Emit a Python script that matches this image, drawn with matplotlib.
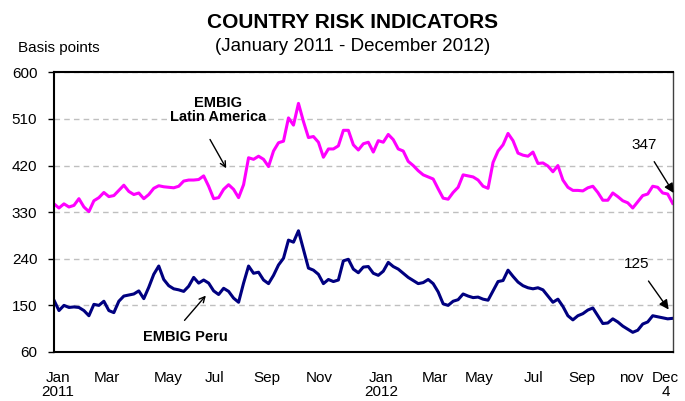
import numpy as np
import matplotlib
matplotlib.use("Agg")
import matplotlib.pyplot as plt

plt.rcParams['font.family'] = ['Liberation Sans', 'DejaVu Sans']

###############################################################
# Data (spreads in basis points, sampled along the period)
###############################################################
latam = [346, 338, 346, 340, 343, 356, 340, 331, 352, 358,
         368, 360, 362, 372, 382, 370, 364, 367, 356, 364,
         376, 381, 379, 378, 377, 380, 390, 392, 392, 393,
         400, 380, 356, 358, 374, 383, 374, 358, 383, 435,
         432, 438, 432, 418, 448, 464, 467, 512, 498, 540,
         505, 474, 476, 465, 436, 452, 452, 458, 488, 488,
         460, 450, 462, 465, 446, 468, 465, 480, 470, 452,
         448, 428, 420, 410, 402, 398, 394, 375, 357, 355,
         368, 378, 402, 400, 398, 392, 380, 376, 426, 448,
         460, 482, 468, 444, 440, 438, 446, 424, 425, 419,
         408, 420, 392, 378, 372, 372, 371, 377, 380, 368,
         353, 353, 367, 360, 352, 348, 338, 350, 362, 365,
         380, 378, 367, 365, 347]

peru = [160, 140, 150, 146, 147, 146, 140, 130, 152, 150,
        158, 140, 136, 158, 168, 170, 172, 178, 163, 185,
        210, 226, 200, 188, 182, 180, 177, 187, 204, 193,
        199, 193, 178, 171, 183, 177, 164, 156, 193, 226,
        212, 214, 199, 192, 208, 228, 241, 276, 272, 294,
        258, 222, 218, 210, 192, 200, 196, 199, 236, 239,
        220, 213, 224, 225, 212, 208, 216, 233, 225, 220,
        212, 204, 198, 192, 194, 200, 192, 176, 153, 150,
        158, 161, 172, 168, 165, 166, 162, 160, 178, 196,
        198, 218, 206, 195, 188, 184, 182, 184, 180, 168,
        156, 162, 148, 130, 122, 130, 134, 141, 145, 130,
        115, 116, 124, 118, 110, 104, 98, 102, 114, 118,
        130, 128, 126, 124, 125]

tick_labels = ['Jan\n2011', 'Mar', 'May', 'Jul', 'Sep', 'Nov', 'Jan\n2012',
               'Mar', 'May', 'Jul', 'Sep', 'nov', 'Dec\n4']
tick_pos = [0.8, 10.6, 22.8, 32.2, 42.6, 53.2, 65.6,
            76.4, 85.2, 96.2, 105.8, 115.8, 122.6]
y_ticks = [60, 150, 240, 330, 420, 510, 600]

x = np.arange(len(latam))

###############################################################
# Figure
###############################################################
fig = plt.figure(figsize=(6.85, 4.01), dpi=100)
ax = fig.add_axes([0.0788, 0.1222, 0.9032, 0.6975])

ax.plot(x, latam, color='#FF00FF', lw=2.2, solid_joinstyle='round')
ax.plot(x, peru, color='#000080', lw=2.2, solid_joinstyle='round')

ax.set_xlim(0, len(latam) - 1)
ax.set_ylim(60, 600)
ax.set_yticks(y_ticks)
ax.set_xticks(tick_pos, tick_labels)
ax.tick_params(axis='x', length=0, pad=14, labelsize=11)
ax.tick_params(axis='y', length=4, width=1, pad=8, labelsize=11)
for lbl in ax.get_xticklabels():
    lbl.set_linespacing(1.0)

ax.yaxis.grid(True, color='#BFBFBF', linestyle=(0, (4, 3)), lw=1)
ax.set_axisbelow(True)
for side in ['left', 'bottom', 'top']:
    ax.spines[side].set_color('black')
    ax.spines[side].set_linewidth(1.5)
ax.spines['right'].set_color('#404040')
ax.spines['right'].set_linewidth(1)

# Titles
fig.text(0.515, 0.945, 'COUNTRY RISK INDICATORS', ha='center', va='center',
         fontsize=15, fontweight='bold')
fig.text(0.515, 0.883, '(January 2011 - December 2012)', ha='center',
         va='center', fontsize=13.5)
fig.text(0.026, 0.881, 'Basis points', ha='left', va='center', fontsize=11)

# Series labels
ax.text(32.8, 527, 'EMBIG\nLatin America', ha='center', va='center',
        fontsize=10.5, fontweight='bold', linespacing=1.05)
ax.annotate('', xy=(34.8, 410), xytext=(31.0, 475),
            arrowprops=dict(arrowstyle='->', color='black', lw=1))
ax.text(26.4, 88, 'EMBIG Peru', ha='center', va='center',
        fontsize=10.5, fontweight='bold')
ax.annotate('', xy=(30.8, 173), xytext=(25.8, 117),
            arrowprops=dict(arrowstyle='->', color='black', lw=1))

# Last values
ax.annotate(str(latam[-1]), xy=(124.2, 367), xytext=(118.2, 460),
            ha='center', va='center', fontsize=11, annotation_clip=False,
            arrowprops=dict(arrowstyle='-|>', color='black', lw=1,
                            mutation_scale=14, shrinkA=6, shrinkB=0))
ax.annotate(str(peru[-1]), xy=(123.2, 142), xytext=(116.8, 229),
            ha='center', va='center', fontsize=11, annotation_clip=False,
            arrowprops=dict(arrowstyle='-|>', color='black', lw=1,
                            mutation_scale=14, shrinkA=6, shrinkB=0))

fig.savefig('out.png', dpi=100)
